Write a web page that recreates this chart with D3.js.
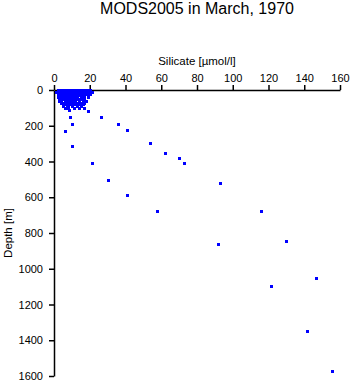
<!DOCTYPE html>
<html>
<head>
<meta charset="utf-8">
<script src="https://cdn.jsdelivr.net/npm/d3@7"></script>
<style>
  body { margin: 0; background: #fff; }
  text { font-family: "Liberation Sans", Arial, Helvetica, sans-serif; }
</style>
</head>
<body>
<svg id="chart" width="351" height="384"></svg>
<script>
const title = "MODS2005 in March, 1970";
const xLabel = "Silicate [\u00b5mol/l]";
const yLabel = "Depth [m]";
const xTicks = [0, 20, 40, 60, 80, 100, 120, 140, 160];
const yTicks = [0, 200, 400, 600, 800, 1000, 1200, 1400, 1600];

// near-surface cluster, silicate per depth level
const clusterDepths = [0, 10, 20, 30, 40, 50, 60, 70, 80, 90, 100, 112, 117];
const clusterSilicate = [
  [2, 3, 4, 5, 6, 7, 8, 9, 10, 11, 12, 13, 14, 15, 16, 17, 18, 19, 20],
  [1, 2, 3, 4, 5, 6, 7, 8, 9, 10, 11, 12, 13, 14, 15, 16, 17, 18, 19, 20, 21],
  [2, 3, 4, 5, 6, 7, 8, 9, 10, 11, 12, 13, 14, 15, 16, 17, 18, 19, 20],
  [2, 3, 4, 5, 6, 7, 8, 9, 10, 11, 12, 13, 14, 15, 16, 17],
  [2, 3, 4, 5, 6, 7, 8, 9, 10, 11, 12, 13, 15, 17, 19],
  [3, 4, 5, 6, 7, 8, 9, 10, 11, 13, 14, 15, 17],
  [3, 4, 6, 7, 8, 9, 10, 12, 14, 16, 18],
  [4, 5, 6, 8, 10, 11, 13, 15, 17],
  [5, 6, 7, 9, 12, 14, 16],
  [5, 7, 8, 10, 13, 15],
  [6, 8, 11, 14, 17],
  [8.4],
  [19.2]
];

// deeper samples
const deepSilicate = [9.1, 26.1, 10.3, 36, 6.3, 41, 53.7, 10.2, 62.1, 70.1, 21, 72.9, 30, 92.9, 41, 57.8, 115.6, 129.6, 91.9, 146.4, 121.6, 141.7, 155.3];
const deepDepth    = [153, 153, 192, 190, 231, 224, 297, 312, 354, 382, 410, 410, 503, 522, 589, 679, 679, 847, 864, 1054, 1097, 1350, 1572];

const points = [];
clusterDepths.forEach((d, i) => clusterSilicate[i].forEach(s => points.push({ s: s, d: d })));
deepSilicate.forEach((s, i) => points.push({ s: s, d: deepDepth[i] }));

const svg = d3.select("#chart");
const x = d3.scaleLinear().domain([0, 160]).range([54, 340]);
const y = d3.scaleLinear().domain([0, 1600]).range([90, 376]);

svg.append("text")
  .attr("x", 197).attr("y", 14)
  .attr("text-anchor", "middle")
  .style("font-size", "16px")
  .text(title);

svg.append("text")
  .attr("x", 197).attr("y", 65)
  .attr("text-anchor", "middle")
  .style("font-size", "11.5px")
  .text(xLabel);

svg.append("text")
  .attr("transform", "translate(12,233) rotate(-90)")
  .attr("text-anchor", "middle")
  .style("font-size", "11.5px")
  .text(yLabel);

const xAxis = svg.append("g")
  .attr("transform", "translate(0,90)")
  .call(d3.axisTop(x).tickValues(xTicks).tickFormat(d3.format("d")).tickSize(5).tickSizeOuter(0).tickPadding(3));

const yAxis = svg.append("g")
  .attr("transform", "translate(54,0)")
  .call(d3.axisLeft(y).tickValues(yTicks).tickFormat(d3.format("d")).tickSize(5).tickSizeOuter(0).tickPadding(6));

[xAxis, yAxis].forEach(g => {
  g.selectAll("path, line").attr("stroke", "#000").attr("stroke-width", 1.5);
  g.selectAll("text").style("font-size", "11px").style("font-family", "'Liberation Sans', Arial, sans-serif").attr("fill", "#000");
});

svg.append("g")
  .selectAll("rect")
  .data(points)
  .enter()
  .append("rect")
  .attr("x", d => Math.round(x(d.s)) - 1)
  .attr("y", d => Math.round(y(d.d)) - 1)
  .attr("width", 3)
  .attr("height", 3)
  .attr("fill", "#0000ff");
</script>
</body>
</html>
